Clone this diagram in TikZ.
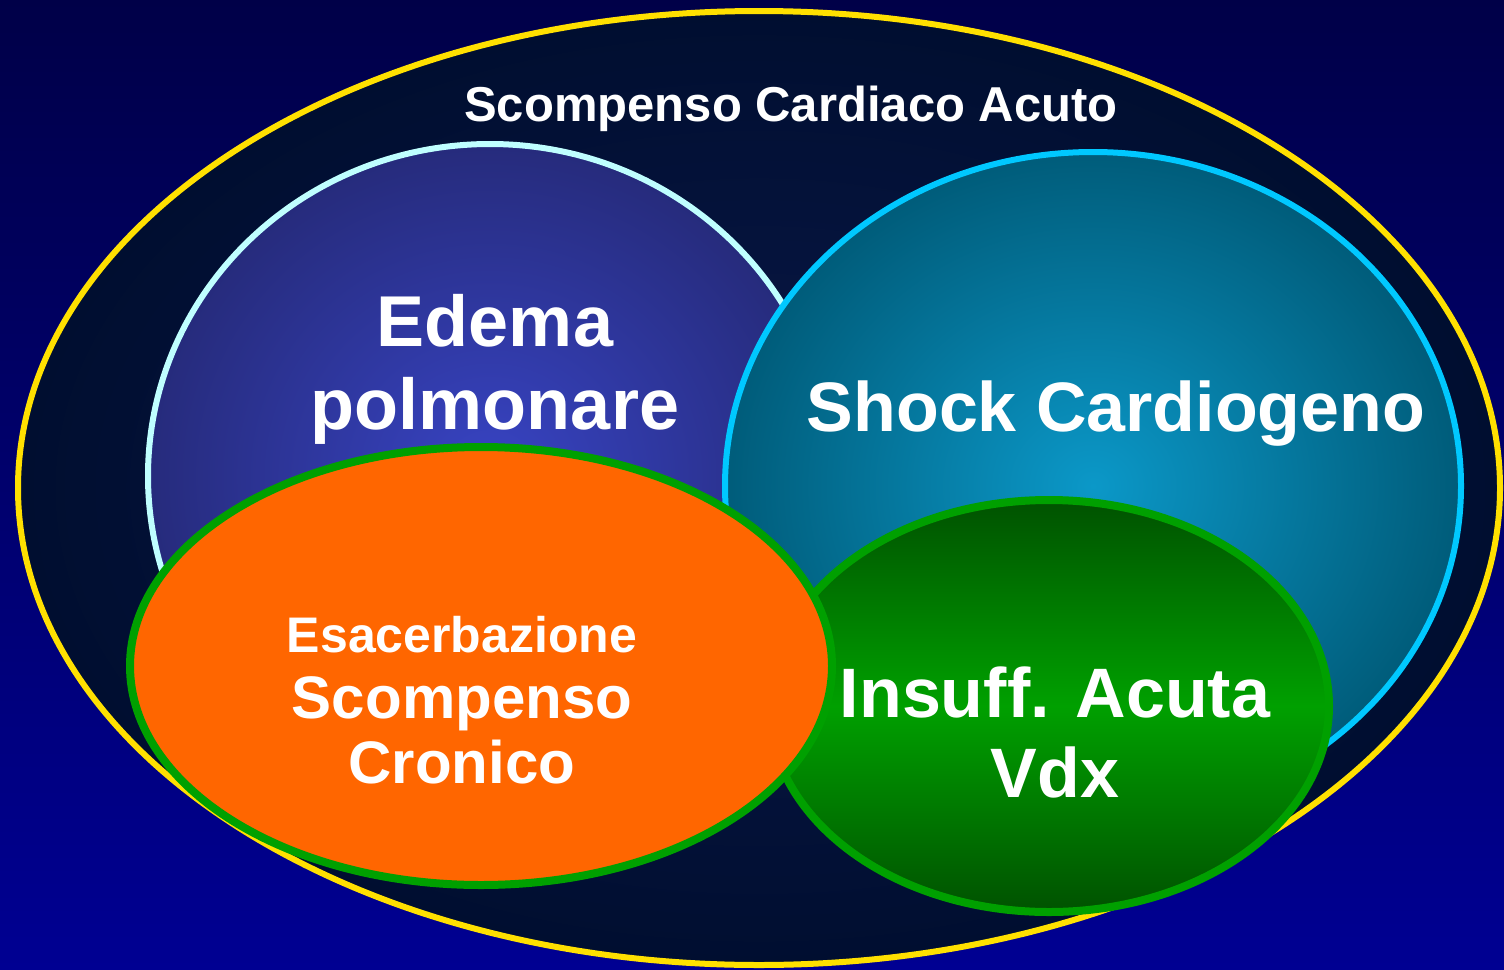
\documentclass[tikz,border=0pt]{standalone}
\usepackage{fontspec}
\setmainfont{Liberation Sans}
\usepackage{xcolor}
\usepackage{tikz}
\usetikzlibrary{shapes.geometric}
\definecolor{bgtop}{HTML}{000048}
\definecolor{bgbottom}{HTML}{000092}
\definecolor{navyin}{HTML}{0A1848}
\definecolor{navyout}{HTML}{000E30}
\definecolor{setyellow}{HTML}{FFE000}
\definecolor{edemain}{HTML}{3844C4}
\definecolor{edemaout}{HTML}{262B7C}
\definecolor{edemaline}{HTML}{BFFFFF}
\definecolor{shockin}{HTML}{0B98C8}
\definecolor{shockout}{HTML}{005C7A}
\definecolor{shockline}{HTML}{00C8FF}
\definecolor{setgreen}{HTML}{00A000}
\definecolor{darkgreen}{HTML}{005200}
\definecolor{setorange}{HTML}{FF6600}
\tikzset{
  setshape/.style={ellipse, inner sep=0pt, outer sep=0pt},
  outerset/.style={setshape, draw=setyellow, line width=3pt, inner color=navyin, outer color=navyout},
  edemaset/.style={setshape, draw=edemaline, line width=3pt, inner color=edemain, outer color=edemaout},
  shockset/.style={setshape, draw=shockline, line width=3pt, inner color=shockin, outer color=shockout},
  rightset/.style={setshape, draw=setgreen, line width=4pt, top color=darkgreen, bottom color=darkgreen, middle color=setgreen},
  chronicset/.style={setshape, draw=setgreen, line width=4pt, fill=setorange},
  setlabel/.style={text=white, font=\bfseries, align=center, inner sep=0pt}
}
\begin{document}
\begin{tikzpicture}[x=0.5pt, y=-0.5pt]
  \shade[top color=bgtop, bottom color=bgbottom] (0,0) rectangle (1504,969);
  \useasboundingbox (0,0) rectangle (1504,969);

  \node[outerset, minimum width=741pt, minimum height=477pt] (acute) at (759,488) {};
  \node[edemaset, minimum width=342pt, minimum height=332pt] (edema) at (490,476) {};
  \node[shockset, minimum width=368pt, minimum height=334pt] (shock) at (1093,486) {};
  \node[rightset, minimum width=280pt, minimum height=206pt] (vdx) at (1049,706) {};
  \node[chronicset, minimum width=351pt, minimum height=219pt] (chronic) at (481,666) {};

  \node[setlabel, font=\bfseries\fontsize{24.5}{28}\selectfont] (acutelbl) at (791,109) {Scompenso Cardiaco Acuto};
  \node[setlabel, font=\bfseries\fontsize{36}{41.5}\selectfont] (edemalbl) at (495,369) {Edema\\polmonare};
  \node[setlabel, font=\bfseries\fontsize{35}{40}\selectfont] (shocklbl) at (1116,414) {Shock Cardiogeno};
  \node[setlabel, font=\bfseries\fontsize{25}{30}\selectfont] (chroniclbl1) at (462,635) {Esacerbazione};
  \node[setlabel, font=\bfseries\fontsize{30}{32.5}\selectfont] (chroniclbl2) at (462,730) {Scompenso\\Cronico};
  \node[setlabel, font=\bfseries\fontsize{35}{40}\selectfont] (vdxlbl) at (1055,732) {Insuff. Acuta\\Vdx};
\end{tikzpicture}
\end{document}
